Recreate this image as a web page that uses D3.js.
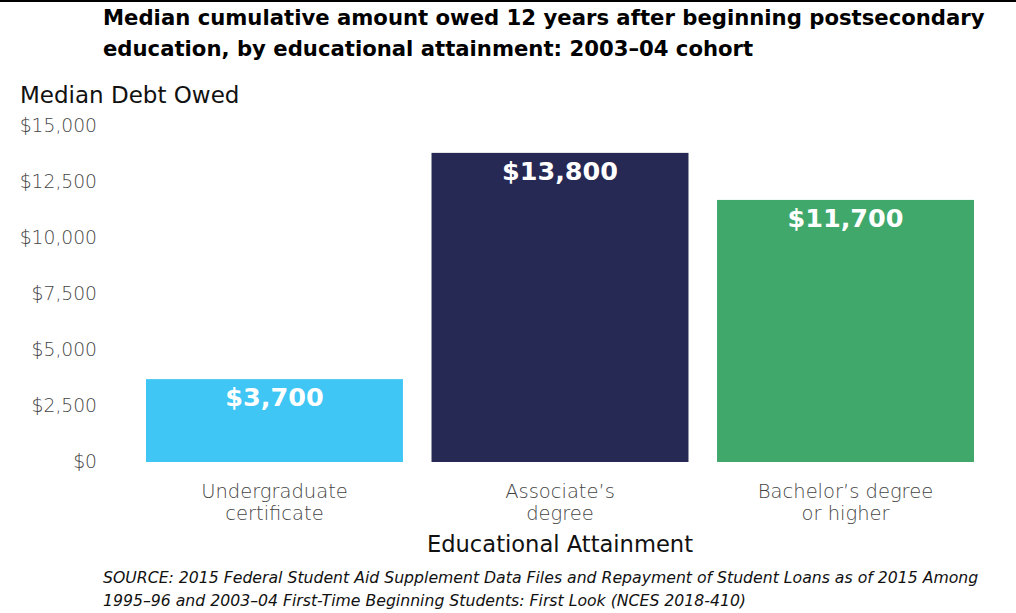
<!DOCTYPE html>
<html>
<head>
<meta charset="utf-8">
<script src="https://cdn.jsdelivr.net/npm/d3@7"></script>
<style>
  body { margin: 0; background: #fff; }
  svg text { font-family: "DejaVu Sans", "Open Sans", sans-serif; }
</style>
</head>
<body>
<div id="DataViz"></div>
<script>
// chart data
const categories = ["Undergraduate certificate", "Associate’s degree", "Bachelor’s degree or higher"];
const categoryLines = [["Undergraduate", "certificate"], ["Associate’s", "degree"], ["Bachelor’s degree", "or higher"]];
const medianDebt = [3700, 13800, 11700];
const barColors = ["#40c6f4", "#252953", "#41a86c"];
const yTicks = [0, 2500, 5000, 7500, 10000, 12500, 15000];
const titleLines = ["Median cumulative amount owed 12 years after beginning postsecondary",
                    "education, by educational attainment: 2003–04 cohort"];
const sourceLines = ["SOURCE: 2015 Federal Student Aid Supplement Data Files and Repayment of Student Loans as of 2015 Among",
                     "1995–96 and 2003–04 First-Time Beginning Students: First Look (NCES 2018-410)"];

const W = 1016, H = 613;
const svg = d3.select("#DataViz").append("svg")
    .attr("width", W)
    .attr("height", H);

// top rule
svg.append("line")
    .attr("x1", 0).attr("x2", W)
    .attr("y1", 1).attr("y2", 1)
    .attr("stroke", "#000")
    .attr("stroke-width", 2);

// title
svg.append("g").selectAll("text")
    .data(titleLines)
    .enter()
    .append("text")
        .attr("x", 103)
        .attr("y", (d, i) => 25 + i * 31)
        .attr("font-size", 21.2)
        .attr("font-weight", "bold")
        .attr("fill", "#000")
        .text(d => d);

let x = d3.scaleBand()
    .domain(categories)
    .range([146, 974])
    .paddingInner(0.1)
    .paddingOuter(0);

let y = d3.scaleLinear()
    .domain([0, 15000])
    .range([462, 126]);

// y axis
let yAxis = svg.append("g")
    .attr("transform", "translate(97,0)")
    .call(d3.axisLeft(y).tickValues(yTicks).tickFormat(d3.format("$,")).tickSize(0).tickPadding(0));
yAxis.select(".domain").remove();
yAxis.selectAll("text")
    .attr("font-size", 18.7)
    .attr("font-weight", 300)
    .attr("fill", "#444")
    .attr("font-family", "\"DejaVu Sans\", sans-serif");

svg.append("text")
    .attr("x", 20)
    .attr("y", 103)
    .attr("font-size", 23)
    .attr("fill", "#111")
    .text("Median Debt Owed");

// bars
svg.selectAll("rect.bar")
    .data(medianDebt)
    .enter()
    .append("rect")
        .attr("class", "bar")
        .attr("x", (d, i) => x(categories[i]))
        .attr("y", d => y(d))
        .attr("width", x.bandwidth())
        .attr("height", d => y(0) - y(d))
        .attr("fill", (d, i) => barColors[i]);

svg.selectAll("text.val")
    .data(medianDebt)
    .enter()
    .append("text")
        .attr("class", "val")
        .attr("x", (d, i) => x(categories[i]) + x.bandwidth() / 2)
        .attr("y", d => y(d) + 27)
        .attr("text-anchor", "middle")
        .attr("font-size", 25.5)
        .attr("font-weight", "bold")
        .attr("fill", "#fff")
        .text(d => d3.format("$,")(d));

// x axis labels
let xAxis = svg.append("g")
    .attr("transform", "translate(0,462)")
    .call(d3.axisBottom(x).tickSize(0).tickFormat(""));
xAxis.select(".domain").remove();
xAxis.selectAll(".tick").each(function(d, i) {
    let t = d3.select(this).append("text")
        .attr("text-anchor", "middle")
        .attr("font-size", 19.5)
        .attr("font-weight", 300)
        .attr("fill", "#444");
    categoryLines[i].forEach((line, j) => {
        t.append("tspan")
            .attr("x", 0)
            .attr("y", 36 + j * 22)
            .text(line);
    });
});

svg.append("text")
    .attr("x", 560)
    .attr("y", 552)
    .attr("text-anchor", "middle")
    .attr("font-size", 22.6)
    .attr("fill", "#111")
    .text("Educational Attainment");

// source note
svg.append("g").selectAll("text")
    .data(sourceLines)
    .enter()
    .append("text")
        .attr("x", 103)
        .attr("y", (d, i) => 583 + i * 23)
        .attr("font-size", 15.7)
        .attr("font-style", "italic")
        .attr("fill", "#111")
        .text(d => d);
</script>
</body>
</html>
